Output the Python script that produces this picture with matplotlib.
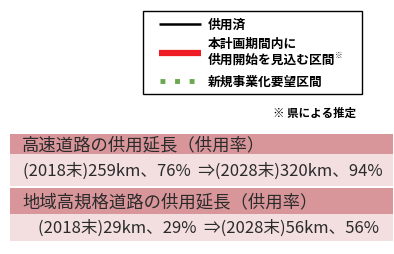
import matplotlib
matplotlib.use("Agg")
import matplotlib.pyplot as plt
from matplotlib.patches import Rectangle

plt.rcParams['font.family'] = ['Noto Sans CJK JP', 'DejaVu Sans']

# legend content
legend_labels = ["供用済", "本計画期間内に\n供用開始を見込む区間", "新規事業化要望区間"]
legend_colors = ["#000000", "#ee1c25", "#6aa84f"]
legend_styles = ["-", "-", ":"]
legend_widths = [1.8, 4.5, 3.5]
note_mark = "※"
note_text = "※ 県による推定"

# summary content
headings = ["高速道路の供用延長（供用率）", "地域高規格道路の供用延長（供用率）"]
details = ["(2018末)259km、76%  ⇒(2028末)320km、94%",
           "(2018末)29km、29%  ⇒(2028末)56km、56%"]

W, H = 394, 255
fig = plt.figure(figsize=(W / 100, H / 100), dpi=100)
ax = fig.add_axes([0, 0, 1, 1])
ax.set_xlim(0, W)
ax.set_ylim(H, 0)
ax.axis("off")

# legend box
ax.add_patch(Rectangle((143, 12), 219, 83, facecolor="white", edgecolor="black", lw=1.0))
line_y = [25, 54, 82]
text_y = [25, 52.5, 82]
for y, ty, lab, c, ls, lw in zip(line_y, text_y, legend_labels, legend_colors, legend_styles, legend_widths):
    if ls == ":":
        ax.plot([160, 201], [y, y], color=c, lw=lw, linestyle=(0, (1.0, 2.0)),
                dash_capstyle="butt")
    else:
        ax.plot([159, 201], [y, y], color=c, lw=lw, solid_capstyle="butt")
    ax.text(208, ty, lab, fontsize=9.2, fontweight="bold", va="center", ha="left",
            color="black", linespacing=1.25)
ax.text(335, 55, note_mark, fontsize=5.5, fontweight="bold", va="center", ha="left", color="black")

ax.text(356, 113, note_text, fontsize=8.3, fontweight="bold", va="center", ha="right", color="black")

# bands
band_top = [135, 155, 189, 215]
band_h = [20, 32, 26, 27]
band_colors = ["#d8969a", "#f3dfdf", "#d8969a", "#f3dfdf"]
for t, h, c in zip(band_top, band_h, band_colors):
    ax.add_patch(Rectangle((10, t), 383, h, facecolor=c, edgecolor="none"))

texts = [headings[0], details[0], headings[1], details[1]]
xs = [22, 23, 22, 38]
sizes = [12.5, 12, 12.5, 12]
for t, h, s, x, fs in zip(band_top, band_h, texts, xs, sizes):
    ax.text(x, t + h / 2, s, fontsize=fs, va="center", ha="left", color="#2b2b2b")

fig.savefig("out.png", dpi=100)
